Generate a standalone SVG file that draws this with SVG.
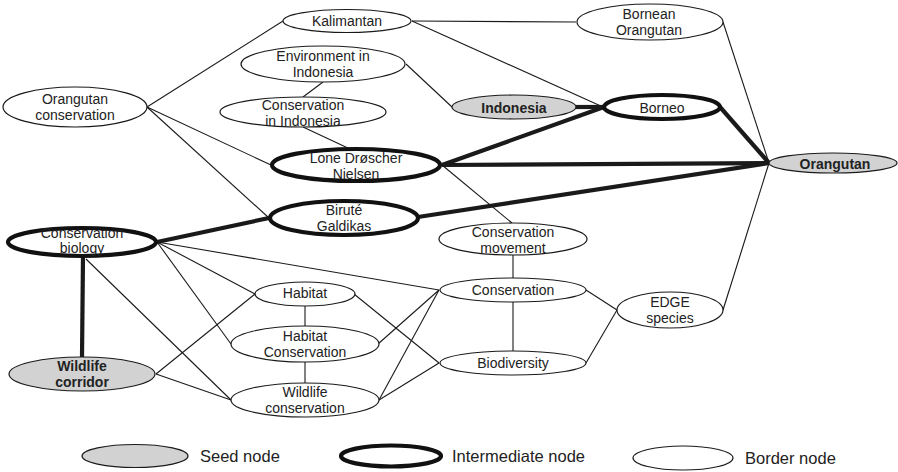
<svg xmlns="http://www.w3.org/2000/svg" width="898" height="472" viewBox="0 0 898 472">
<style>
.bg{fill:#ffffff}
.e{stroke:#1a1a1a;stroke-width:1.1;fill:none}
.et{stroke:#1a1a1a;stroke-width:4.2;fill:none}
.b{fill:#ffffff;stroke:#1a1a1a;stroke-width:1.2}
.s{fill:#d2d2d2;stroke:#1a1a1a;stroke-width:1.2}
.i{fill:#ffffff;stroke:#111111;stroke-width:4.2}
text{font-family:"Liberation Sans",Arial,sans-serif;font-size:14px;fill:#222222;text-anchor:middle}
.bd{font-weight:bold}
.lg{font-size:16.5px;text-anchor:start}
</style>
<rect class="bg" x="0" y="0" width="898" height="472"/>
<g id="connectors">
<line class="e" x1="147" y1="107" x2="283" y2="21"/>
<line class="e" x1="147" y1="107" x2="271" y2="165"/>
<line class="e" x1="147" y1="107" x2="269" y2="218"/>
<line class="e" x1="412" y1="21" x2="576" y2="22"/>
<line class="e" x1="412" y1="21" x2="603" y2="107"/>
<line class="e" x1="406" y1="64" x2="452" y2="107"/>
<line class="e" x1="323" y1="82" x2="303" y2="97"/>
<line class="e" x1="303" y1="127" x2="350" y2="149"/>
<line class="e" x1="723" y1="22" x2="769" y2="163"/>
<line class="e" x1="442" y1="165" x2="512" y2="223"/>
<line class="e" x1="723" y1="310" x2="769" y2="163"/>
<line class="e" x1="513" y1="255" x2="513" y2="278"/>
<line class="e" x1="513" y1="302" x2="513" y2="351"/>
<line class="e" x1="586" y1="290" x2="617" y2="310"/>
<line class="e" x1="586" y1="363" x2="617" y2="310"/>
<line class="e" x1="157" y1="242" x2="439" y2="290"/>
<line class="e" x1="157" y1="242" x2="255" y2="294"/>
<line class="e" x1="157" y1="242" x2="231" y2="344"/>
<line class="e" x1="86" y1="259" x2="231" y2="400"/>
<line class="e" x1="156" y1="374" x2="255" y2="294"/>
<line class="e" x1="156" y1="374" x2="231" y2="400"/>
<line class="e" x1="305" y1="306" x2="305" y2="326"/>
<line class="e" x1="305" y1="362" x2="305" y2="383"/>
<line class="e" x1="354" y1="294" x2="439" y2="363"/>
<line class="e" x1="378" y1="344" x2="439" y2="290"/>
<line class="e" x1="379" y1="400" x2="439" y2="290"/>
<line class="e" x1="379" y1="400" x2="439" y2="363"/>
<line class="et" x1="575" y1="107" x2="604" y2="107"/>
<line class="et" x1="442" y1="165" x2="604" y2="107"/>
<line class="et" x1="442" y1="165" x2="769" y2="163"/>
<line class="et" x1="720" y1="107" x2="769" y2="163"/>
<line class="et" x1="418" y1="217" x2="769" y2="163"/>
<line class="et" x1="157" y1="242" x2="269" y2="218"/>
<line class="et" x1="83" y1="256" x2="82" y2="357"/>
</g>
<g id="n-kalimantan"><ellipse class="b" cx="347" cy="21" rx="64" ry="11.5"/><text x="347" y="26">Kalimantan</text></g>
<g id="n-bornean-orangutan"><ellipse class="b" cx="650" cy="22" rx="73" ry="18"/><text x="649" y="19">Bornean</text><text x="649" y="35">Orangutan</text></g>
<g id="n-environment-indonesia"><ellipse class="b" cx="323" cy="64" rx="82" ry="18"/><text x="323" y="61">Environment in</text><text x="323" y="77">Indonesia</text></g>
<g id="n-conservation-indonesia"><ellipse class="b" cx="303" cy="112" rx="83" ry="15"/><text x="303" y="110">Conservation</text><text x="303" y="126">in Indonesia</text></g>
<g id="n-orangutan-conservation"><ellipse class="b" cx="75" cy="107" rx="72" ry="20"/><text x="75" y="104">Orangutan</text><text x="75" y="120">conservation</text></g>
<g id="n-lone"><ellipse class="i" cx="356" cy="165" rx="84" ry="16"/><text x="356" y="163">Lone Drøscher</text><text x="356" y="179">Nielsen</text></g>
<g id="n-birute"><ellipse class="i" cx="344" cy="218" rx="74" ry="17"/><text x="344" y="215">Biruté</text><text x="344" y="231">Galdikas</text></g>
<g id="n-conservation-biology"><ellipse class="i" cx="82" cy="242" rx="74" ry="14"/><text x="82" y="238">Conservation</text><text x="82" y="253">biology</text></g>
<g id="n-indonesia"><ellipse class="s" cx="514" cy="107" rx="62" ry="12"/><text class="bd" x="514" y="113">Indonesia</text></g>
<g id="n-borneo"><ellipse class="i" cx="662" cy="107" rx="58" ry="12"/><text x="662" y="113">Borneo</text></g>
<g id="n-orangutan"><ellipse class="s" cx="833" cy="163" rx="64" ry="10"/><text class="bd" x="835" y="169">Orangutan</text></g>
<g id="n-conservation-movement"><ellipse class="b" cx="513" cy="239" rx="74" ry="16"/><text x="513" y="237">Conservation</text><text x="513" y="253">movement</text></g>
<g id="n-conservation"><ellipse class="b" cx="513" cy="290" rx="73" ry="12"/><text x="513" y="295">Conservation</text></g>
<g id="n-biodiversity"><ellipse class="b" cx="513" cy="363" rx="73" ry="12"/><text x="513" y="368">Biodiversity</text></g>
<g id="n-edge"><ellipse class="b" cx="670" cy="310" rx="53" ry="18"/><text x="670" y="307">EDGE</text><text x="670" y="323">species</text></g>
<g id="n-habitat"><ellipse class="b" cx="305" cy="294" rx="50" ry="12"/><text x="305" y="298">Habitat</text></g>
<g id="n-habitat-conservation"><ellipse class="b" cx="305" cy="344" rx="74" ry="18"/><text x="305" y="341">Habitat</text><text x="305" y="357">Conservation</text></g>
<g id="n-wildlife-conservation"><ellipse class="b" cx="305" cy="400" rx="74" ry="17"/><text x="305" y="397">Wildlife</text><text x="305" y="413">conservation</text></g>
<g id="n-wildlife-corridor"><ellipse class="s" cx="82" cy="374" rx="73" ry="17"/><text class="bd" x="82" y="371">Wildlife</text><text class="bd" x="82" y="387">corridor</text></g>
<g id="legend">
<ellipse class="s" cx="135" cy="456" rx="53" ry="11.5"/><text class="lg" x="200" y="462">Seed node</text>
<ellipse class="i" cx="391" cy="456" rx="50" ry="10.5"/><text class="lg" x="452" y="462">Intermediate node</text>
<ellipse class="b" cx="683" cy="458" rx="50" ry="12"/><text class="lg" x="745" y="464">Border node</text>
</g>
</svg>
